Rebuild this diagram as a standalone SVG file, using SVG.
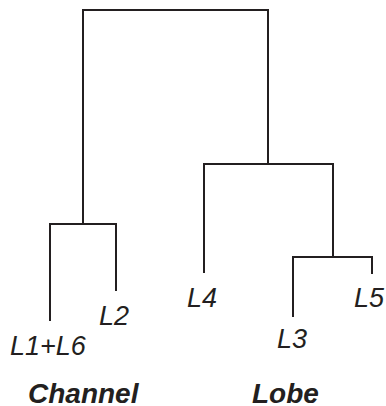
<svg xmlns="http://www.w3.org/2000/svg" width="386" height="406" viewBox="0 0 386 406">
<style>
.e{fill:none;stroke:#231f20;stroke-width:2;stroke-linecap:square}
.t{font-family:"Liberation Sans",Arial,sans-serif;font-style:italic;font-size:27px;fill:#231f20}
.b{font-weight:bold;font-size:28px}
</style>
<rect width="386" height="406" fill="#fff"/>
<g id="connectors">
<path class="e" d="M83,224 V10 H268 V164"/>
<path class="e" d="M50,320 V224 H116 V290"/>
<path class="e" d="M204,272 V164 H333 V257"/>
<path class="e" d="M293,316 V257 H372 V273"/>
</g>
<g id="L1L6"><text class="t" x="10" y="355">L1+L6</text></g>
<g id="L2"><text class="t" x="99" y="325">L2</text></g>
<g id="L4"><text class="t" x="187" y="307">L4</text></g>
<g id="L3"><text class="t" x="277" y="348">L3</text></g>
<g id="L5"><text class="t" x="354" y="307">L5</text></g>
<g id="channel"><text class="t b" x="28" y="403">Channel</text></g>
<g id="lobe"><text class="t b" x="252" y="403">Lobe</text></g>
</svg>
